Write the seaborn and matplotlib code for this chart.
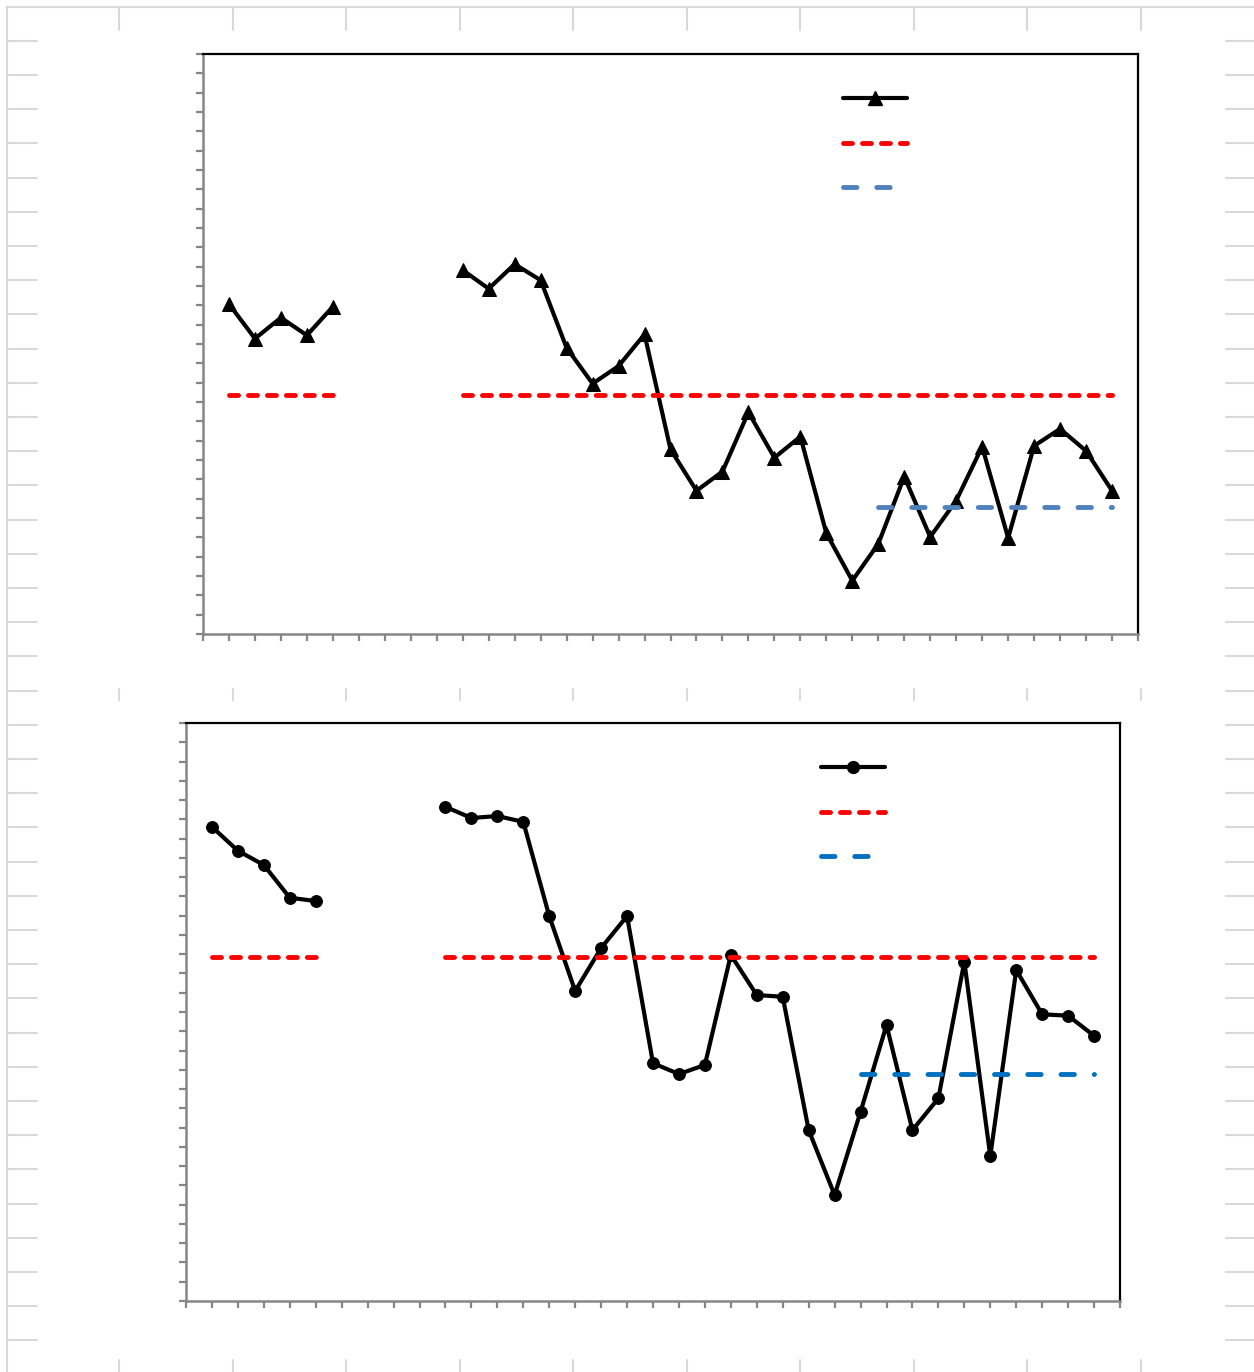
import numpy as np
import pandas as pd
import matplotlib
matplotlib.use("Agg")
import matplotlib.pyplot as plt
import seaborn as sns
from matplotlib.lines import Line2D

# ---------------- data ----------------
phase1_x = [1, 2, 3, 4, 5]
phase2_x = list(range(10, 36))
baseline_x = list(range(26, 36))

top_phase1 = [17.07, 15.28, 16.36, 15.45, 16.93]
top_phase2 = [18.82, 17.86, 19.13, 18.30, 14.80, 12.95, 13.86, 15.50, 9.55, 7.41,
              8.40, 11.47, 9.12, 10.21, 5.21, 2.76, 4.66, 8.14, 5.02, 6.90,
              9.69, 4.97, 9.73, 10.61, 9.47, 7.41]
top_red_level = 12.35
top_blue_level = 6.55

bottom_phase1 = [24.61, 23.37, 22.63, 20.93, 20.76]
bottom_phase2 = [25.65, 25.07, 25.17, 24.87, 19.98, 16.09, 18.32, 19.98, 12.34, 11.78,
                 12.25, 17.96, 15.88, 15.79, 8.87, 5.50, 9.82, 14.32, 8.87, 10.52,
                 17.61, 7.52, 17.18, 14.88, 14.81, 13.77]
bottom_red_level = 17.84
bottom_blue_level = 11.76

x_max = 36
y_max = 30

# ---------------- style ----------------
sns.set_theme(style="white")
plt.rcParams["font.family"] = ["DejaVu Sans"]

W, H = 1254, 1372
fig = plt.figure(figsize=(W / 100, H / 100), dpi=100)
fig.patch.set_facecolor("white")

# spreadsheet grid remnants in the background
GRID = "#d9d9d9"
def fline(xs, ys, **kw):
    fig.add_artist(Line2D([x / W for x in xs], [1 - y / H for y in ys],
                          transform=fig.transFigure, color=GRID, lw=1.5, zorder=0, **kw))

fline([7, 7], [7, H])
fline([7, W], [7, 7])
for k in range(39):
    yy = 40.7 + k * 34.2
    fline([7, 37], [yy, yy])
    fline([1226, W], [yy, yy])
for k in range(10):
    xx = 119 + k * 113.5
    fline([xx, xx], [7, 30])
    fline([xx, xx], [689, 700])
    fline([xx, xx], [1360, H])

LW_MAIN = 3.0
LW_DASH = 3.5
RED_DASH = (0, (1.85, 2.05))
BLUE_DASH = (0, (2.76, 4.08))


def make_df(x1, y1, x2, y2):
    return pd.DataFrame({
        "x": list(x1) + list(x2),
        "y": list(y1) + list(y2),
        "seg": ["p1"] * len(x1) + ["p2"] * len(x2),
    })


def panel(rect, y1, y2, red, blue, marker, msize, blue_color, leg_x):
    ax = fig.add_axes(rect)
    ax.set_facecolor("white")
    df = make_df(phase1_x, y1, phase2_x, y2)
    sns.lineplot(data=df, x="x", y="y", units="seg", estimator=None, ax=ax,
                 color="black", lw=LW_MAIN, marker=marker, markersize=msize,
                 markeredgecolor="black", markerfacecolor="black", zorder=3,
                 legend=False)
    rdf = make_df([phase1_x[0], phase1_x[-1]], [red, red],
                  [phase2_x[0], phase2_x[-1]], [red, red])
    sns.lineplot(data=rdf, x="x", y="y", units="seg", estimator=None, ax=ax,
                 color="#FF0000", lw=LW_DASH, linestyle=RED_DASH,
                 dash_capstyle="round", zorder=4, legend=False)
    bdf = pd.DataFrame({"x": [baseline_x[0], baseline_x[-1]], "y": [blue, blue]})
    sns.lineplot(data=bdf, x="x", y="y", ax=ax, color=blue_color, lw=LW_DASH,
                 linestyle=BLUE_DASH, dash_capstyle="round", zorder=4,
                 legend=False)

    ax.set_xlim(0, x_max)
    ax.set_ylim(0, y_max)
    ax.set_xticks(range(0, x_max + 1))
    ax.set_yticks(range(0, y_max + 1))
    ax.set_xticklabels([])
    ax.set_yticklabels([])
    ax.set_xlabel("")
    ax.set_ylabel("")
    ax.grid(False)
    for s in ["top", "right"]:
        ax.spines[s].set_color("black")
        ax.spines[s].set_linewidth(1.6)
        ax.spines[s].set_visible(True)
    for s in ["left", "bottom"]:
        ax.spines[s].set_color("#868686")
        ax.spines[s].set_linewidth(1.8)
        ax.spines[s].set_visible(True)
    ax.tick_params(axis="both", which="major", direction="out", length=5,
                   width=1.6, color="#868686", bottom=True, left=True,
                   top=False, right=False)

    handles = [
        Line2D([], [], color="black", lw=LW_MAIN, marker=marker, markersize=msize),
        Line2D([], [], color="#FF0000", lw=LW_DASH, linestyle=RED_DASH,
               dash_capstyle="round"),
        Line2D([], [], color=blue_color, lw=LW_DASH, linestyle=BLUE_DASH,
               dash_capstyle="round"),
    ]
    ax.legend(handles, ["", "", ""], loc="upper left", bbox_to_anchor=(leg_x, 0.938),
              frameon=False, fontsize=16, handlelength=2.9, handletextpad=0.2,
              labelspacing=1.1, borderpad=0, borderaxespad=0)
    return ax


top_rect = [203 / W, 1 - 634 / H, 935 / W, 580 / H]
bot_rect = [186 / W, 1 - 1301 / H, 934 / W, 578 / H]

panel(top_rect, top_phase1, top_phase2, top_red_level, top_blue_level,
      "^", 10.5, "#4F81BD", (843 - 203) / 935)
panel(bot_rect, bottom_phase1, bottom_phase2, bottom_red_level, bottom_blue_level,
      "o", 8.5, "#0070C0", (821 - 186) / 934)

fig.savefig("out.png", dpi=100)
